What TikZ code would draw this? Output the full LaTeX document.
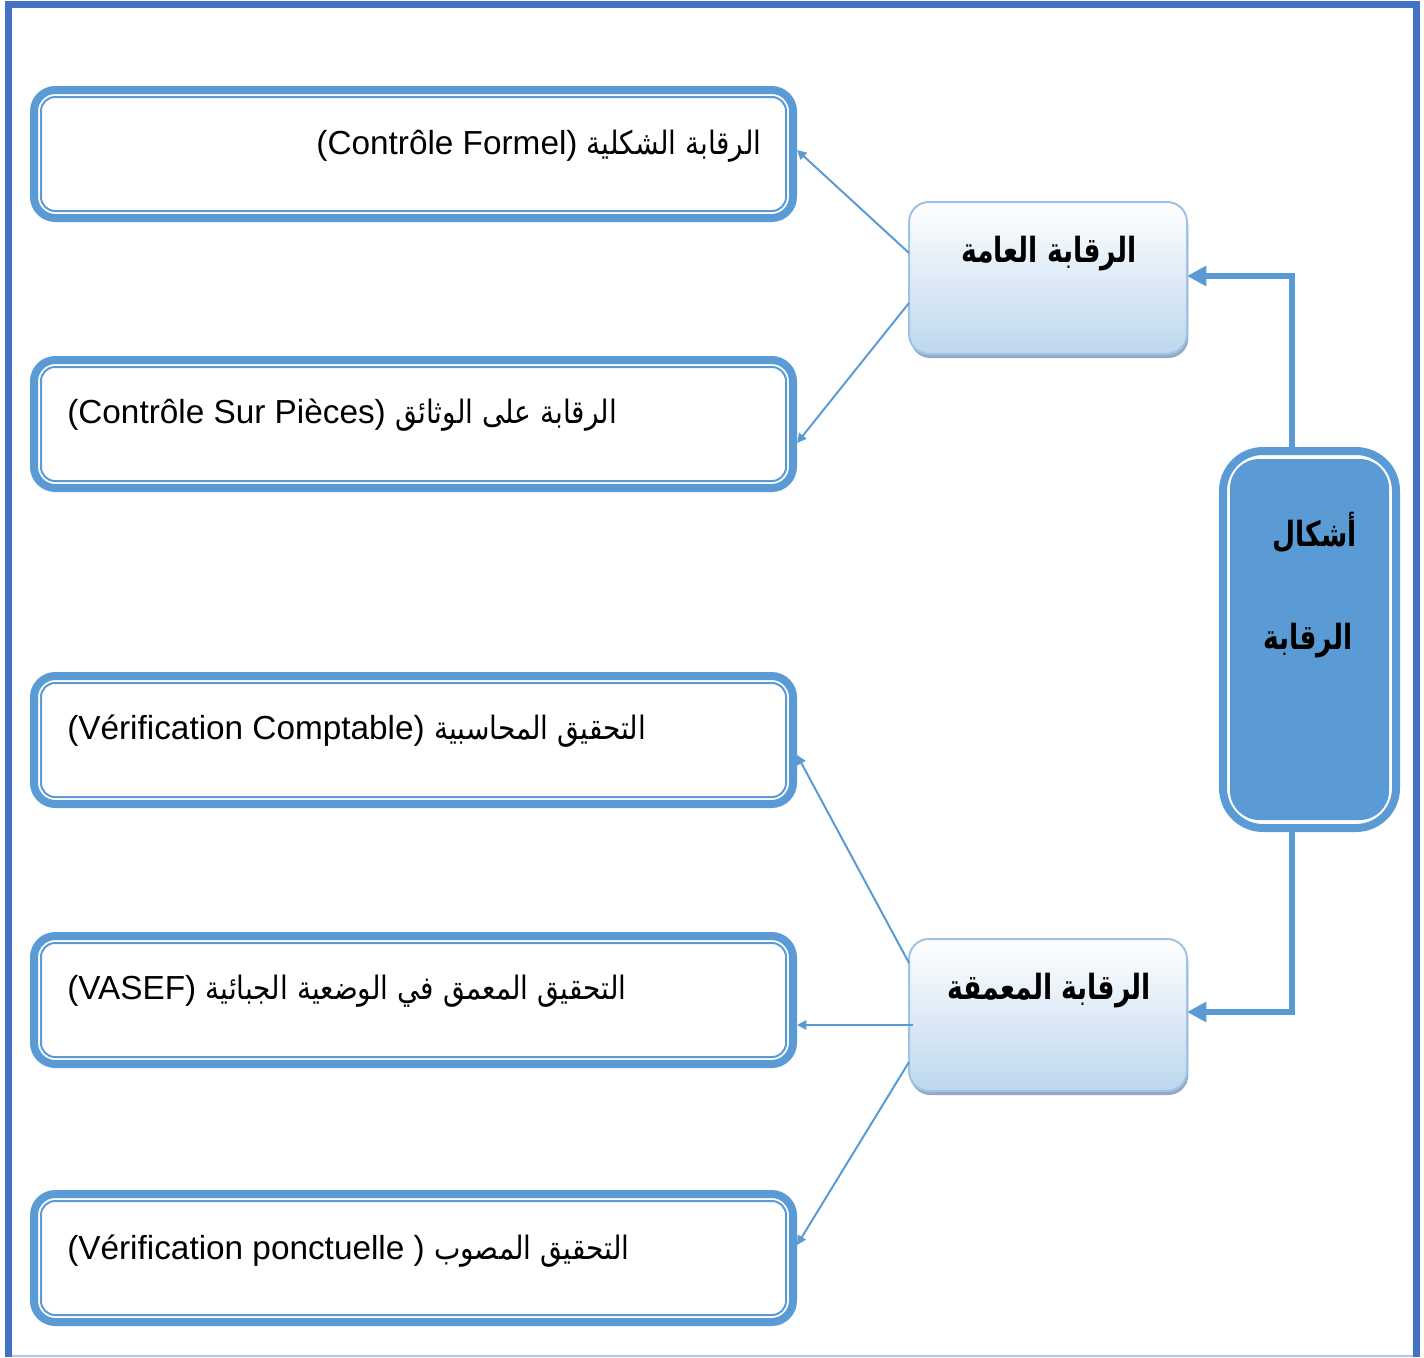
\documentclass[tikz,border=0pt]{standalone}
\usepackage{fontspec}
\usepackage{graphicx}
\setmainfont{Liberation Sans}
\newfontfamily\ar[Script=Arabic]{DejaVu Sans}
\TeXXeTstate=1
\usetikzlibrary{arrows.meta,calc,shadows}
\definecolor{framecol}{HTML}{4472C4}
\definecolor{boxcol}{HTML}{5B9BD5}
\definecolor{midborder}{HTML}{9DC3E6}
\definecolor{midbottom}{HTML}{BDD7EE}
\definecolor{shadowcol}{HTML}{94A9C4}
\definecolor{bottomline}{HTML}{B4C7E7}
\newcommand{\artext}[1]{{\ar\fontsize{21}{25}\selectfont\scalebox{1}[1.15]{\beginR #1\endR}}}
\newcommand{\arbold}[1]{\scalebox{1}[1.3]{\beginR #1\endR}}
\begin{document}
\begin{tikzpicture}[x=0.75pt,y=-0.75pt,
  outerbox/.style={draw=boxcol, line width=6pt, rounded corners=16pt,
    minimum width=569.25pt, minimum height=96pt, inner sep=0pt, outer sep=0pt},
  innerline/.style={draw=boxcol, line width=1.5pt, rounded corners=10.5pt},
  midbox/.style={draw=midborder, line width=1.5pt, rounded corners=15pt,
    top color=white, bottom color=midbottom,
    minimum width=208.5pt, minimum height=114pt, inner sep=0pt, outer sep=0pt,
    drop shadow={shadow xshift=1pt, shadow yshift=-3pt, fill=shadowcol, opacity=1}},
  bigbox/.style={draw=boxcol, fill=white, line width=6pt, rounded corners=30pt,
    minimum width=129.75pt, minimum height=282.75pt, inner sep=0pt, outer sep=0pt},
  txt/.style={inner sep=0pt, font=\fontsize{25}{30}\selectfont},
  boldar/.style={inner sep=0pt, font=\ar\bfseries\fontsize{20}{24}\selectfont},
  thinarrow/.style={draw=boxcol, line width=1.5pt, -{Triangle[length=7pt,width=7pt]}},
  thickarrow/.style={draw=boxcol, line width=4.5pt, -{Triangle[length=14.5pt,width=14.5pt]}}
]
\useasboundingbox (0,0) rectangle (1424,1357);
% frame
\draw[framecol, line width=5.25pt] (8.5,1357) -- (8.5,4.5) -- (1416,4.5) -- (1416,1357);
\draw[bottomline, line width=1.5pt] (12,1355.5) -- (1413,1355.5);

% left boxes
\node[outerbox] (b1) at (413.5,154) {};
\node[outerbox] (b2) at (413.5,424) {};
\node[outerbox] (b3) at (413.5,740) {};
\node[outerbox] (b4) at (413.5,1000) {};
\node[outerbox] (b5) at (413.5,1258) {};
\foreach \b in {b1,b2,b3,b4,b5}{
  \draw[innerline] ($(\b.north west)+(7,7)$) rectangle ($(\b.south east)+(-7,-7)$);
}

\node[txt, anchor=east] (t1) at (762,146) {(Contrôle Formel) \artext{الرقابة الشكلية}};
\node[txt, anchor=west] (t2) at (67,415) {(Contrôle Sur Pièces) \artext{الرقابة على الوثائق}};
\node[txt, anchor=west] (t3) at (67,731) {(Vérification Comptable) \artext{التحقيق المحاسبية}};
\node[txt, anchor=west] (t4) at (67,991) {(VASEF) \artext{التحقيق المعمق في الوضعية الجبائية}};
\node[txt, anchor=west] (t5) at (67,1251) {(Vérification ponctuelle ) \artext{التحقيق المصوب}};

% middle boxes
\node[midbox] (g) at (1048,278) {};
\node[midbox] (d) at (1048,1015) {};
\node[boldar] (gt) at (1049,254) {\arbold{الرقابة العامة}};
\node[boldar] (dt) at (1049,991) {\arbold{الرقابة المعمقة}};

% right box
\node[bigbox] (r) at (1309.5,639.5) {};
\fill[boxcol, rounded corners=22pt] ($(r.north west)+(7,8)$) rectangle ($(r.south east)+(-7,-8)$);
\node[boldar, anchor=east] (rt1) at (1357,532) {\arbold{أشكال}};
\node[boldar, anchor=east] (rt2) at (1353,641) {\arbold{الرقابة}};

% thick connectors
\draw[thickarrow] ($(r.north)+(-18,0)$) |- ($(g.east)+(0,-2)$);
\draw[thickarrow] ($(r.south)+(-18,0)$) |- ($(d.east)+(0,-3)$);

% thin connectors
\draw[thinarrow] ($(g.west)+(0,-25)$) -- ($(b1.east)+(4,-4)$);
\draw[thinarrow] ($(g.west)+(0,25)$) -- ($(b2.east)+(4,19)$);
\draw[thinarrow] ($(d.west)+(0,-52)$) -- ($(b3.east)+(4,15)$);
\draw[thinarrow] ($(d.west)+(4,10)$) -- ($(b4.east)+(4,25)$);
\draw[thinarrow] ($(d.west)+(0,47)$) -- ($(b5.east)+(4,-13)$);
\end{tikzpicture}
\end{document}
